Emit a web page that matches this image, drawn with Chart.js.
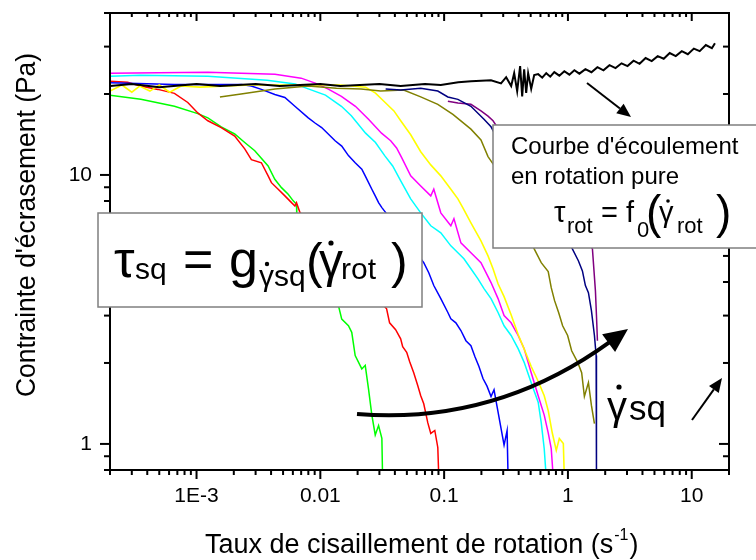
<!DOCTYPE html>
<html><head><meta charset="utf-8">
<script src="https://cdn.jsdelivr.net/npm/chart.js@4.4.1/dist/chart.umd.min.js"></script>
<style>html,body{margin:0;padding:0;background:#fff;}canvas{display:block;}</style>
</head><body>
<canvas id="c" width="756" height="560"></canvas>
<script>
const FONT = '"Liberation Sans", Arial, Helvetica, sans-serif';

// ---- axes ----
const xRange = [0.0002, 20];
const yRange = [0.8, 40];
const xMajorTicks = [0.001, 0.01, 0.1, 1, 10];
const xTickLabels = ['1E-3', '0.01', '0.1', '1', '10'];
const xMinorTicks = [0.0002,0.0003,0.0004,0.0005,0.0006,0.0007,0.0008,0.0009,
  0.002,0.003,0.004,0.005,0.006,0.007,0.008,0.009,
  0.02,0.03,0.04,0.05,0.06,0.07,0.08,0.09,
  0.2,0.3,0.4,0.5,0.6,0.7,0.8,0.9,
  2,3,4,5,6,7,8,9,20];
const yMajorTicks = [1, 10];
const yTickLabels = ['1', '10'];
const yMinorTicks = [0.8,0.9,2,3,4,5,6,7,8,9,20,30,40];
const xTitle = 'Taux de cisaillement de rotation (s';
const xTitleSup = '-1';
const yTitle = "Contrainte d'écrasement (Pa)";

// ---- series: [rate (1/s), stress (Pa)] ----
const blackPts = [[2.0e-4,21.4],[3.0e-4,21.8],[5.0e-4,21.2],[1.0e-3,21.8],[1.55e-3,21.4],[3.0e-3,21.8],[4.7e-3,21.4],[0.010,21.8],[0.0145,21.4],[0.030,21.8],[0.0446,21.4],[0.070,21.8],[0.094,21.6],[0.130,22.1],[0.165,22.3],[0.239,22.5],[0.288,21.9],[0.317,23.1],[0.348,21.4],[0.368,23.9],[0.389,20.5],[0.411,25.4],[0.427,19.6],[0.443,24.7],[0.460,20.2],[0.477,23.9],[0.505,20.9],[0.534,23.5],[0.575,23.7],[0.620,23.0],[0.668,23.9],[0.720,23.2],[0.776,24.1],[0.852,23.4],[0.935,24.3],[1.027,23.6],[1.127,24.5],[1.237,23.8],[1.384,24.74],[1.548,24.1],[1.731,25.16],[1.936,24.5],[2.166,25.6],[2.423,24.95],[2.71,26.0],[3.03,25.4],[3.39,26.6],[3.79,25.9],[4.24,27.2],[4.75,26.5],[5.31,27.65],[5.94,27.05],[6.64,28.4],[7.43,27.65],[8.31,28.85],[9.30,28.1],[10.4,29.5],[11.6,28.85],[13.0,30.4],[14.55,29.6],[15.4,30.9]];
const greenPts = [[2.0e-4,19.8],[3.55e-4,19.1],[6.63e-4,18.0],[1.024e-3,16.9],[1.235e-3,16.3],[1.583e-3,15.1],[2.033e-3,14.2],[2.451e-3,13.2],[2.954e-3,12.3],[3.787e-3,10.8],[4.29e-3,9.64],[4.855e-3,8.97],[5.50e-3,8.48],[6.04e-3,8.01],[6.42e-3,7.78],[6.45e-3,7.15],[0.0140,3.27],[0.01489,2.91],[0.01687,2.75],[0.01794,2.60],[0.01912,2.13],[0.02163,1.90],[0.02305,1.96],[0.02451,1.60],[0.02607,1.28],[0.02777,1.08],[0.02954,1.17],[0.03141,1.05],[0.03183,0.75]];
const redPts = [[2.0e-4,22.3],[2.77e-4,22.1],[3.53e-4,21.4],[4.88e-4,20.8],[6.63e-4,20.1],[8.5e-4,18.6],[1.024e-3,17.0],[1.235e-3,15.9],[1.583e-3,15.0],[2.033e-3,13.95],[2.451e-3,12.5],[2.773e-3,11.4],[3.342e-3,11.1],[3.787e-3,9.92],[4.027e-3,9.36],[4.565e-3,8.85],[5.172e-3,8.36],[5.851e-3,7.89],[6.234e-3,7.67],[6.42e-3,7.89],[6.846e-3,7.25],[7.28e-3,7.05],[0.0343,3.18],[0.03627,2.82],[0.04057,2.66],[0.04456,2.46],[0.04625,2.30],[0.04984,2.19],[0.0527,2.02],[0.0568,1.84],[0.06119,1.65],[0.06471,1.51],[0.06844,1.41],[0.07376,1.20],[0.078,1.094],[0.08406,1.122],[0.08889,0.97],[0.09057,0.75]];
const bluePts = [[2.0e-4,22.0],[6.63e-4,21.7],[2.3e-3,21.7],[2.77e-3,21.4],[3.34e-3,20.8],[4.29e-3,19.9],[5.17e-3,19.4],[6.23e-3,18.0],[7.99e-3,16.3],[9.06e-3,15.6],[0.01025,15.0],[0.01316,13.4],[0.01489,12.8],[0.01687,11.8],[0.01912,11.1],[0.02163,10.5],[0.02305,9.92],[0.02607,8.85],[0.02777,8.36],[0.02954,7.89],[0.03141,7.56],[0.03449,7.15],[0.06844,4.72],[0.07514,4.33],[0.08251,3.88],[0.094,3.47],[0.1072,3.08],[0.1133,2.92],[0.1244,2.82],[0.1366,2.64],[0.15,2.42],[0.1646,2.32],[0.1774,2.11],[0.1911,1.94],[0.206,1.75],[0.222,1.64],[0.2392,1.50],[0.253,1.59],[0.2675,1.38],[0.2884,1.14],[0.3049,0.99],[0.3225,1.12],[0.3285,0.75]];
const cyanPts = [[2.0e-4,23.3],[3.53e-4,23.5],[1.235e-3,23.3],[3.72e-3,22.5],[6.26e-3,21.8],[7.99e-3,20.9],[0.011,19.8],[0.0148,18.0],[0.0178,16.6],[0.0232,14.3],[0.0279,13.2],[0.0331,11.8],[0.0384,10.8],[0.0446,9.5],[0.0537,8.15],[0.0647,7.23],[0.078,6.47],[0.094,6.09],[0.1133,5.45],[0.1292,5.14],[0.1445,4.88],[0.1646,4.48],[0.1876,4.11],[0.2099,3.78],[0.2392,3.47],[0.2726,3.08],[0.3049,2.75],[0.3475,2.53],[0.396,2.26],[0.443,2.01],[0.505,1.69],[0.575,1.43],[0.6085,1.20],[0.6435,0.96],[0.668,0.75]];
const magentaPts = [[2.0e-4,23.9],[1.235e-3,24.1],[4.3e-3,23.7],[7.0e-3,22.9],[9.1e-3,21.95],[0.0116,20.85],[0.0148,19.6],[0.0192,18.0],[0.0245,16.1],[0.0312,14.3],[0.037,13.4],[0.0413,12.6],[0.0454,11.6],[0.0537,9.92],[0.0647,9.1],[0.078,8.36],[0.0825,8.85],[0.094,7.23],[0.1133,6.47],[0.12,6.87],[0.1366,5.59],[0.1646,5.14],[0.1984,4.72],[0.2392,3.98],[0.2726,3.47],[0.3049,3.0],[0.3475,2.82],[0.396,2.53],[0.443,2.26],[0.505,1.84],[0.575,1.51],[0.6435,1.28],[0.693,1.10],[0.733,0.96],[0.761,0.75]];
const yellowPts = [[2.0e-4,20.5],[2.5e-4,21.6],[3.0e-4,20.3],[3.47e-4,21.4],[4.2e-4,20.5],[5.0e-4,21.6],[6.07e-4,20.3],[7.5e-4,21.4],[1.064e-3,21.2],[2.71e-3,21.6],[6.9e-3,21.6],[0.01453,21.6],[0.0232,21.2],[0.0279,20.15],[0.0326,18.8],[0.0393,17.3],[0.0446,15.9],[0.0537,14.1],[0.0647,12.2],[0.078,10.9],[0.094,9.92],[0.1133,8.85],[0.1292,8.15],[0.1418,7.54],[0.1646,6.64],[0.1984,5.69],[0.2262,5.0],[0.2483,4.48],[0.2726,3.94],[0.3049,3.53],[0.3475,3.02],[0.396,2.55],[0.435,2.30],[0.505,1.94],[0.575,1.71],[0.6435,1.51],[0.693,1.33],[0.747,1.10],[0.805,0.946],[0.852,1.048],[0.918,1.004],[0.935,0.75]];
const olivePts = [[1.545e-3,19.5],[2.29e-3,20.0],[4.3e-3,20.85],[7.99e-3,21.4],[0.0135,21.0],[0.0213,20.85],[0.0307,20.5],[0.0471,20.7],[0.0647,19.5],[0.0889,18.3],[0.1177,16.8],[0.1646,14.8],[0.1984,13.5],[0.2262,11.7],[0.2483,11.0],[0.2884,9.92],[0.534,5.31],[0.6085,4.72],[0.693,4.37],[0.733,3.81],[0.78,3.41],[0.841,3.08],[0.906,2.75],[0.9945,2.53],[1.0715,2.22],[1.199,2.01],[1.291,1.84],[1.358,1.50],[1.464,1.69],[1.548,1.39],[1.637,1.19]];
const navyPts = [[0.0337,20.85],[0.0446,20.7],[0.0647,21.0],[0.0889,20.5],[0.1072,19.5],[0.1292,19.1],[0.1646,18.0],[0.2099,16.1],[0.2392,15.1],[0.2627,13.95],[1.086,5.31],[1.214,4.80],[1.309,4.40],[1.384,3.88],[1.464,3.65],[1.548,3.13],[1.637,2.53],[1.69,2.13],[1.70,0.75]];
const purplePts = [[0.1072,18.8],[0.1292,18.5],[0.1646,18.3],[0.1984,17.3],[0.2262,16.55],[0.2483,15.9],[0.2675,15.1],[1.577,5.31],[1.668,3.70],[1.70,3.0],[1.731,2.42]];

const seriesList = [
  {name:'rotation pure', pts:blackPts, color:'#000000', w:2},
  {name:'s9', pts:navyPts, color:'#000080', w:1.5},
  {name:'s8', pts:purplePts, color:'#800080', w:1.5},
  {name:'s7', pts:olivePts, color:'#808000', w:1.5},
  {name:'s6', pts:yellowPts, color:'#FFFF00', w:1.6},
  {name:'s5', pts:magentaPts, color:'#FF00FF', w:1.5},
  {name:'s4', pts:cyanPts, color:'#00FFFF', w:1.5},
  {name:'s3', pts:bluePts, color:'#0000FF', w:1.5},
  {name:'s2', pts:redPts, color:'#FF0000', w:1.5},
  {name:'s1', pts:greenPts, color:'#00FF00', w:1.5}
];

const near = (a, b) => Math.abs(a - b) <= 1e-9 + 1e-6 * Math.abs(b);
const xAllTicks = [...xMinorTicks, ...xMajorTicks].sort((a, b) => a - b);
const yAllTicks = [...yMinorTicks, ...yMajorTicks].sort((a, b) => a - b);
function labelFor(v, majors, labels) {
  const i = majors.findIndex(m => near(v, m));
  return i >= 0 ? labels[i] : '';
}

function txt(ctx, s, x, y, size, align) {
  ctx.font = size + 'px ' + FONT;
  ctx.textAlign = align || 'left';
  ctx.textBaseline = 'alphabetic';
  ctx.fillText(s, x, y);
  return ctx.measureText(s).width;
}
function dot(ctx, x, y, r) { ctx.beginPath(); ctx.arc(x, y, r, 0, Math.PI * 2); ctx.fill(); }
function seg(ctx, x1, y1, x2, y2) { ctx.beginPath(); ctx.moveTo(x1, y1); ctx.lineTo(x2, y2); ctx.stroke(); }
function head(ctx, tx, ty, ux, uy, len, half) {
  const L = Math.hypot(ux, uy); ux /= L; uy /= L;
  const bx = tx - ux * len, by = ty - uy * len;
  ctx.beginPath(); ctx.moveTo(tx, ty);
  ctx.lineTo(bx - uy * half, by + ux * half);
  ctx.lineTo(bx + uy * half, by - ux * half);
  ctx.closePath(); ctx.fill();
  return [bx, by];
}

const overlay = {
  id: 'overlay',
  afterDatasetsDraw(chart) {
    const ctx = chart.ctx, a = chart.chartArea, xs = chart.scales.x, ys = chart.scales.y;
    ctx.save();
    ctx.strokeStyle = '#000'; ctx.fillStyle = '#000';
    ctx.lineWidth = 2; ctx.lineCap = 'butt';
    xAllTicks.forEach(v => {
      const p = xs.getPixelForValue(v);
      const mj = xMajorTicks.some(m => near(v, m));
      seg(ctx, p, a.bottom, p, a.bottom + (mj ? 9 : 5));
      seg(ctx, p, a.top, p, a.top + (mj ? 8 : 4));
    });
    yAllTicks.forEach(v => {
      const p = ys.getPixelForValue(v);
      const mj = yMajorTicks.some(m => near(v, m));
      seg(ctx, a.left, p, a.left - (mj ? 10 : 6), p);
      seg(ctx, a.right, p, a.right - (mj ? 10 : 6), p);
    });
    ctx.strokeRect(a.left, a.top, a.right - a.left, a.bottom - a.top);

    // axis titles
    ctx.fillStyle = '#000';
    let w = txt(ctx, xTitle, 205, 553, 27);
    let w2 = txt(ctx, xTitleSup, 205 + w + 1, 540, 16);
    txt(ctx, ')', 205 + w + w2 + 2, 553, 27);
    ctx.save();
    ctx.translate(35, 225); ctx.rotate(-Math.PI / 2);
    ctx.font = '27px ' + FONT;
    const tw = ctx.measureText(yTitle).width;
    ctx.scale(344 / tw, 1);
    txt(ctx, yTitle, 0, 0, 27, 'center');
    ctx.restore();

    // box 1 : tau_sq formula
    ctx.fillStyle = '#fff'; ctx.strokeStyle = '#7f7f7f'; ctx.lineWidth = 1.5;
    ctx.fillRect(98, 213, 324, 94); ctx.strokeRect(98, 213, 324, 94);
    ctx.fillStyle = '#000';
    txt(ctx, 'τ', 114, 277, 52);
    txt(ctx, 'sq', 135, 279, 30);
    txt(ctx, '=', 183, 277, 52);
    txt(ctx, 'g', 229, 277, 52);
    let gw = txt(ctx, 'γ', 259, 286, 30); dot(ctx, 267, 264, 2.2);
    txt(ctx, 'sq', 259 + gw, 286, 30);
    txt(ctx, '(', 306, 278, 50);
    txt(ctx, 'γ', 319, 277, 48); dot(ctx, 331, 243, 2.6);
    txt(ctx, 'rot', 341, 279, 30);
    txt(ctx, ')', 391, 278, 50);

    // box 2 : flow curve
    ctx.fillStyle = '#fff'; ctx.strokeStyle = '#7f7f7f';
    ctx.fillRect(493, 125, 270, 123); ctx.strokeRect(493, 125, 270, 123);
    ctx.fillStyle = '#000';
    txt(ctx, "Courbe d'écoulement", 511, 154, 24);
    txt(ctx, 'en rotation pure', 511, 184, 24);
    txt(ctx, 'τ', 554, 222, 29);
    txt(ctx, 'rot', 567, 233, 22);
    txt(ctx, '=', 601, 222, 29);
    txt(ctx, 'f', 626, 222, 29);
    txt(ctx, '0', 637, 237, 22);
    txt(ctx, '(', 646, 228, 46);
    txt(ctx, 'γ', 659, 222, 29); dot(ctx, 668, 201, 1.8);
    txt(ctx, 'rot', 677, 233, 22);
    txt(ctx, ')', 716, 228, 46);

    // gamma_sq label
    let g2 = txt(ctx, 'γ', 607, 420, 40); dot(ctx, 619, 387, 2.6);
    txt(ctx, 'sq', 607 + g2 + 2, 420, 35);

    // arrows
    ctx.strokeStyle = '#000'; ctx.fillStyle = '#000';
    ctx.lineWidth = 2;
    let b = head(ctx, 631, 117, 44, 34, 14, 6);
    seg(ctx, 587, 83, b[0], b[1]);
    b = head(ctx, 722, 378, 30, -42, 14, 6);
    seg(ctx, 692, 420, b[0], b[1]);
    ctx.lineWidth = 4;
    b = head(ctx, 628, 329, 0.81, -0.59, 24, 11);
    ctx.beginPath(); ctx.moveTo(357, 414);
    ctx.quadraticCurveTo(495, 425, b[0] + 1, b[1] - 1); ctx.stroke();
    ctx.restore();
  }
};

new Chart(document.getElementById('c'), {
  type: 'line',
  data: {
    datasets: seriesList.map(s => ({
      label: s.name,
      data: s.pts.map(p => ({x: p[0], y: p[1]})),
      borderColor: s.color, backgroundColor: s.color,
      borderWidth: s.w, pointRadius: 0, tension: 0, fill: false, clip: 0
    }))
  },
  options: {
    responsive: false, animation: false, devicePixelRatio: 1,
    layout: {padding: {left: 0, top: 13, right: 27, bottom: 0}},
    plugins: {legend: {display: false}, tooltip: {enabled: false}},
    scales: {
      x: {
        type: 'logarithmic', min: xRange[0], max: xRange[1],
        afterBuildTicks: s => { s.ticks = xAllTicks.map(v => ({value: v})); },
        afterFit: s => { s.height = 90; s.paddingLeft = 0; s.paddingRight = 0; s.paddingTop = 0; s.paddingBottom = 0; },
        grid: {display: false, drawTicks: false, tickLength: 0},
        border: {display: false},
        ticks: {autoSkip: false, maxRotation: 0, minRotation: 0, padding: 14, color: '#000',
          font: {family: FONT, size: 21},
          callback: v => labelFor(v, xMajorTicks, xTickLabels)}
      },
      y: {
        type: 'logarithmic', min: yRange[0], max: yRange[1],
        afterBuildTicks: s => { s.ticks = yAllTicks.map(v => ({value: v})); },
        afterFit: s => { s.width = 110; s.paddingLeft = 0; s.paddingRight = 0; s.paddingTop = 0; s.paddingBottom = 0; },
        grid: {display: false, drawTicks: false, tickLength: 0},
        border: {display: false},
        ticks: {autoSkip: false, padding: 18, color: '#000',
          font: {family: FONT, size: 21},
          callback: v => labelFor(v, yMajorTicks, yTickLabels)}
      }
    }
  },
  plugins: [overlay]
});
</script>
</body></html>
